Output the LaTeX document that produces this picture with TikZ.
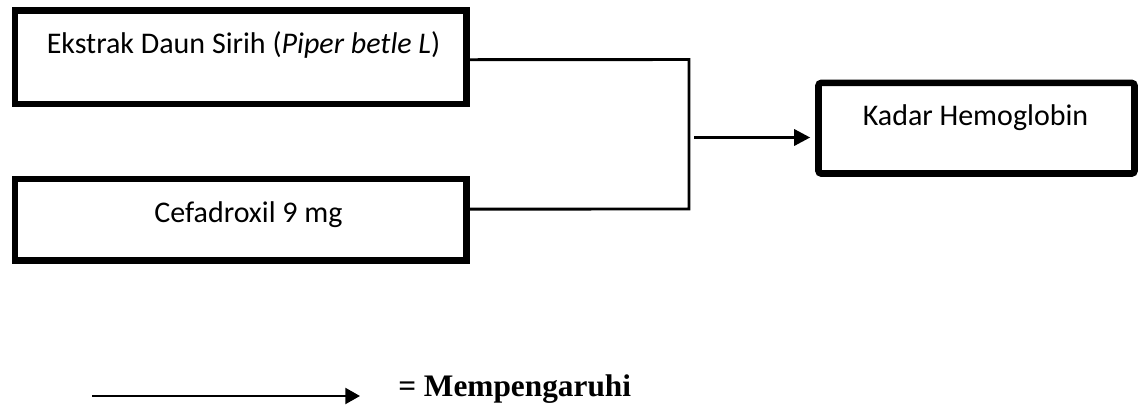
\documentclass[tikz,border=0pt]{standalone}
\usepackage{fontspec}
\setmainfont{Carlito}
\newfontfamily\legendfont{Liberation Serif}
\usetikzlibrary{arrows.meta,calc}

\tikzset{
  heavybox/.style={draw=black, line width=4.9pt, minimum width=#1, inner sep=0pt, outer sep=0pt},
  boxtext/.style={anchor=base, inner sep=0pt, font=\fontsize{22.5}{27}\selectfont},
  link/.style={line width=2.2pt, line cap=rect},
  causes/.style={line width=2.4pt, -{Triangle[length=12pt,width=12pt]}},
  keyarrow/.style={line width=1.6pt, -{Triangle[length=11pt,width=12pt]}},
}

\begin{document}
\begin{tikzpicture}[x=0.75pt, y=-0.75pt]
  \useasboundingbox (0,0) rectangle (1143,409);

  % input boxes
  \node[heavybox=338.6pt, minimum height=70pt] (b1) at (240.75,57.2) {};
  \node[heavybox=338.6pt, minimum height=61.1pt] (b2) at (240.75,219.75) {};
  % outcome box
  \node[heavybox=237pt, minimum height=67.9pt, rounded corners=2pt] (b3) at (976.5,128.25) {};

  \node[boxtext] (t1) at (243.5,54) {Ekstrak Daun Sirih (\textit{Piper betle L})};
  \node[boxtext] (t2) at (248.5,223) {Cefadroxil 9 mg};
  \node[boxtext] (t3) at (975.5,125.5) {Kadar Hemoglobin};

  % bracket joining both inputs
  \coordinate (jt) at (689,59.5);
  \coordinate (jb) at (689,209);
  \coordinate (jm) at (689,137.5);
  \draw[link] ([yshift=-1.9pt]b1.east) -- (jt) -- (jb) -- ([yshift=8pt]b2.east);
  \draw[causes, shorten <=3.75pt, shorten >=6.2pt] (jm) -- (b3.west |- jm);

  % legend
  \coordinate (k1) at (92,396);
  \coordinate (k2) at (360,396);
  \draw[keyarrow] (k1) -- (k2);
  \node[anchor=base west, inner sep=0pt, font=\legendfont\bfseries\fontsize{23.5}{28}\selectfont] (kt) at (398,397) {= Mempengaruhi};
\end{tikzpicture}
\end{document}
